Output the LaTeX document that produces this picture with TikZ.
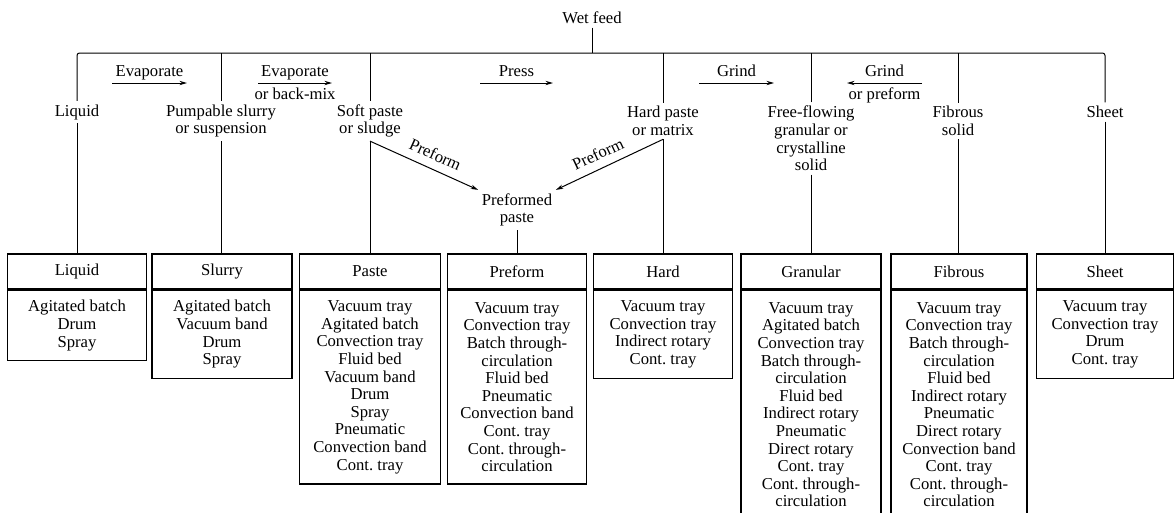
\documentclass[tikz,border=0pt]{standalone}
\usepackage{fontspec}
\setmainfont{Liberation Serif}
\usetikzlibrary{arrows.meta}
\begin{document}
\begin{tikzpicture}[x=0.6pt,y=-0.6pt,
  txt/.style={font=\fontsize{10pt}{10.56pt}\selectfont},
  lbl/.style={txt, align=center, inner sep=2pt},
  alab/.style={txt, text height=6.9pt, text depth=2.2pt, inner sep=1.5pt},
  blab/.style={txt, text height=6.9pt, text depth=2.2pt, inner sep=2.8pt},
  plab/.style={txt, sloped, inner sep=1pt, text height=6.9pt, text depth=0pt},
  hdr/.style={txt, draw, line width=0.8pt, minimum width=#1, minimum height=21pt, inner sep=0pt},
  bdy/.style={txt, draw, line width=0.8pt, anchor=north, align=center, minimum width=#1, inner sep=0pt},
  conn/.style={line width=0.6pt},
  parr/.style={line width=0.6pt, -{Stealth[length=4.5pt,width=2.6pt]}},
]
\useasboundingbox (0,0) rectangle (1175,512);

% ---- top labels
\node[lbl] (wet) at (592,18) {Wet feed};
\node[lbl] (liqlab) at (77,112) {Liquid};
\node[lbl] (slulab) at (221,121) {Pumpable slurry\\or suspension};
\node[lbl] (softlab) at (370,121) {Soft paste\\or sludge};
\node[lbl] (hardlab) at (663,121) {Hard paste\\or matrix};
\node[lbl] (freelab) at (811,138.5) {Free-flowing\\granular or\\crystalline\\solid};
\node[lbl] (fiblab) at (958,121) {Fibrous\\solid};
\node[lbl] (sheetlab) at (1105,112) {Sheet};
\node[lbl] (pref) at (517,210) {Preformed\\paste};

% ---- boxes
\node[hdr=83.4pt] (liqh) at (77,271.5) {Liquid};
\node[bdy=83.4pt, minimum height=42.24pt] (liqb) at (liqh.south) {Agitated batch\\Drum\\Spray};

\node[hdr=84pt] (sluh) at (222,271.5) {Slurry};
\node[bdy=84pt, minimum height=52.8pt] (slub) at (sluh.south) {Agitated batch\\Vacuum band\\Drum\\Spray};

\node[hdr=84.6pt] (pasteh) at (370,271.5) {Paste};
\node[bdy=84.6pt, minimum height=116.16pt] (pasteb) at (pasteh.south) {Vacuum tray\\Agitated batch\\Convection tray\\Fluid bed\\Vacuum band\\Drum\\Spray\\Pneumatic\\Convection band\\Cont.\ tray};

\node[hdr=83.4pt] (prefh) at (517,271.5) {Preform};
\node[bdy=83.4pt, minimum height=116.16pt] (prefb) at (prefh.south) {Vacuum tray\\Convection tray\\Batch through-\\circulation\\Fluid bed\\Pneumatic\\Convection band\\Cont.\ tray\\Cont.\ through-\\circulation};

\node[hdr=83.4pt] (hardh) at (663,271.5) {Hard};
\node[bdy=83.4pt, minimum height=52.8pt] (hardb) at (hardh.south) {Vacuum tray\\Convection tray\\Indirect rotary\\Cont.\ tray};

\node[hdr=84pt] (granh) at (811,271.5) {Granular};
\node[bdy=84pt, minimum height=137.28pt] (granb) at (granh.south) {Vacuum tray\\Agitated batch\\Convection tray\\Batch through-\\circulation\\Fluid bed\\Indirect rotary\\Pneumatic\\Direct rotary\\Cont.\ tray\\Cont.\ through-\\circulation};

\node[hdr=81.6pt] (fibh) at (959,271.5) {Fibrous};
\node[bdy=81.6pt, minimum height=137.28pt] (fibb) at (fibh.south) {Vacuum tray\\Convection tray\\Batch through-\\circulation\\Fluid bed\\Indirect rotary\\Pneumatic\\Direct rotary\\Convection band\\Cont.\ tray\\Cont.\ through-\\circulation};

\node[hdr=82.2pt] (sheeth) at (1105,271.5) {Sheet};
\node[bdy=82.2pt, minimum height=52.8pt] (sheetb) at (sheeth.south) {Vacuum tray\\Convection tray\\Drum\\Cont.\ tray};

% ---- top bar
\coordinate (bar) at (0,53);
\draw[conn] (wet.south) -- (wet.south |- bar);
\draw[conn, rounded corners=1.5pt] (liqlab.north) -- (liqlab.north |- bar) -| (sheetlab.north);
\foreach \n in {slulab,softlab,hardlab,freelab,fiblab}
  \draw[conn] (\n.north) -- (\n.north |- bar);

% ---- down to boxes
\draw[conn] (liqlab.south) -- (liqlab.south |- liqh.north);
\draw[conn] (slulab.south) -- (slulab.south |- sluh.north);
\draw[conn] (softlab.south) -- (softlab.south |- pasteh.north);
\draw[conn] (pref.south) -- (pref.south |- prefh.north);
\draw[conn] (hardlab.south) -- (hardlab.south |- hardh.north);
\draw[conn] (freelab.south) -- (freelab.south |- granh.north);
\draw[conn] (fiblab.south) -- (fiblab.south |- fibh.north);
\draw[conn] (sheetlab.south) -- (sheetlab.south |- sheeth.north);

% ---- preform diagonals
\draw[parr] (softlab.south) -- node[plab, above=4pt, pos=0.55] {Preform} (pref.north west);
\draw[parr, {Stealth[length=4.5pt,width=2.6pt]}-] (pref.north east) -- node[plab, above=4pt, pos=0.45] {Preform} (hardlab.south);

% ---- process arrows
\coordinate (ev1a) at (112,83);  \coordinate (ev1b) at (187,83);
\coordinate (ev2a) at (258,83);  \coordinate (ev2b) at (332,83);
\coordinate (pra) at (480,83);   \coordinate (prb) at (553,83);
\coordinate (gr1a) at (699,83);  \coordinate (gr1b) at (774,83);
\coordinate (gr2a) at (922,83);  \coordinate (gr2b) at (847,83);
\draw[parr] (ev1a) -- node[alab, above] {Evaporate} (ev1b);
\draw[parr] (ev2a) -- node[alab, above] {Evaporate} node[blab, below] {or back-mix} (ev2b);
\draw[parr] (pra) -- node[alab, above] {Press} (prb);
\draw[parr] (gr1a) -- node[alab, above] {Grind} (gr1b);
\draw[parr] (gr2a) -- node[alab, above] {Grind} node[blab, below] {or preform} (gr2b);
\end{tikzpicture}
\end{document}
